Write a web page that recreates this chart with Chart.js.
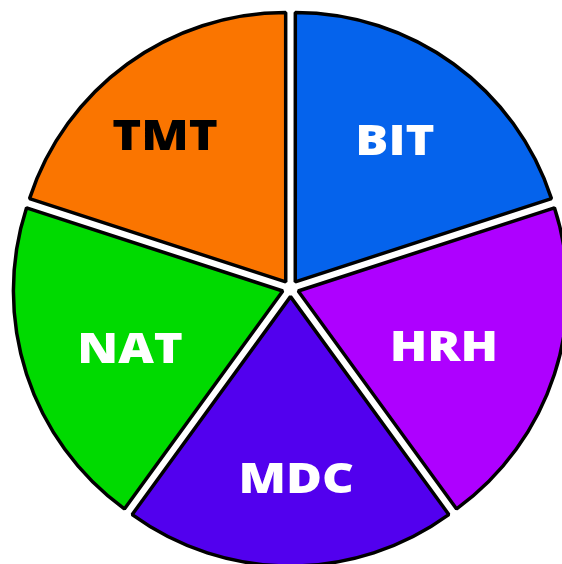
<!DOCTYPE html>
<html>
<head>
<meta charset="utf-8">
<script src="https://cdn.jsdelivr.net/npm/chart.js@4/dist/chart.umd.min.js"></script>
<style>
  html, body { margin: 0; padding: 0; background: #ffffff; }
  #wrap { width: 562px; height: 564px; position: relative; }
</style>
</head>
<body>
<div id="wrap"><canvas id="c" width="562" height="564"></canvas></div>
<script>
const categories = ['BIT', 'HRH', 'MDC', 'NAT', 'TMT'];
const values = [1, 1, 1, 1, 1];
const sliceColors = ['#0563EC', '#AE00FF', '#5200EE', '#00DA00', '#FA7500'];
const labelColors = ['#ffffff', '#ffffff', '#ffffff', '#ffffff', '#000000'];

// desired outward shift of each slice in pixels
const explodePx = 8.5;
// Chart.js v4 arc translates by offset/4 * (1 + (1 - sin(circumference)))
const sliceAngle = 2 * Math.PI / values.length;
const chartOffset = explodePx * 4 / (2 - Math.sin(Math.min(Math.PI, sliceAngle)));

const sliceLabels = {
  id: 'sliceLabels',
  afterDatasetsDraw(chart, args, opts) {
    const ctx = chart.ctx;
    const meta = chart.getDatasetMeta(0);
    ctx.save();
    ctx.font = opts.font;
    ctx.textAlign = 'center';
    ctx.textBaseline = 'alphabetic';
    meta.data.forEach((arc, i) => {
      const p = arc.getProps(['x', 'y', 'startAngle', 'endAngle', 'outerRadius'], true);
      const mid = (p.startAngle + p.endAngle) / 2 + opts.angleNudge[i] * Math.PI / 180;
      const r = p.outerRadius * opts.fractions[i];
      const x = p.x + Math.cos(mid) * r;
      const y = p.y + Math.sin(mid) * r;
      ctx.fillStyle = labelColors[i];
      ctx.save();
      ctx.translate(x, y + opts.capHeight / 2);
      ctx.scale(opts.stretch, 1);
      ctx.fillText(categories[i], 0, 0);
      ctx.restore();
    });
    ctx.restore();
  }
};

new Chart(document.getElementById('c'), {
  type: 'pie',
  data: {
    labels: categories,
    datasets: [{
      data: values,
      backgroundColor: sliceColors,
      borderColor: '#000000',
      borderWidth: 3.5,
      offset: chartOffset,
      clip: false
    }]
  },
  options: {
    responsive: false,
    animation: false,
    radius: 269,
    layout: { padding: { left: 19, top: 13, right: 0, bottom: 0 } },
    plugins: {
      legend: { display: false },
      tooltip: { enabled: false },
      sliceLabels: {
        font: '800 42px "Open Sans"',
        capHeight: 30,
        stretch: 1.17,
        fractions: [0.675, 0.609, 0.705, 0.636, 0.737],
        angleNudge: [-0.9, 2.5, -1.7, -2.3, -3.3]
      }
    }
  },
  plugins: [sliceLabels]
});
</script>
</body>
</html>
